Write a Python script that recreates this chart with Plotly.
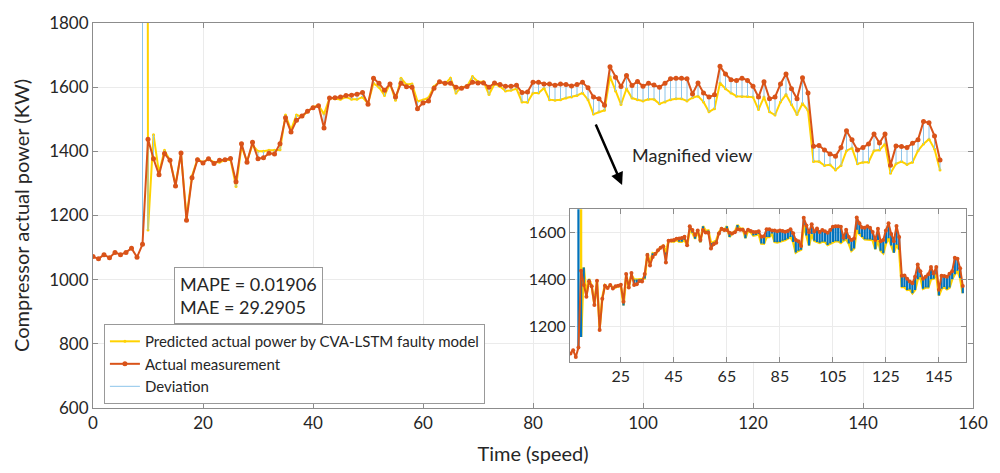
import plotly.graph_objects as go

time_idx = list(range(155))

actual = [1072, 1065, 1078, 1068, 1085, 1078, 1085, 1098, 1070, 1110,
          1438, 1377, 1327, 1393, 1372, 1292, 1395, 1185, 1318, 1374,
          1364, 1377, 1362, 1372, 1374, 1378, 1305, 1424, 1366, 1428,
          1377, 1380, 1394, 1392, 1424, 1505, 1460, 1497, 1510, 1525,
          1536, 1542, 1473, 1566, 1567, 1569, 1574, 1575, 1578, 1583,
          1547, 1628, 1612, 1590, 1610, 1569, 1612, 1601, 1600, 1533,
          1551, 1557, 1597, 1617, 1612, 1612, 1600, 1597, 1602, 1615,
          1613, 1613, 1600, 1613, 1608, 1603, 1603, 1606, 1583, 1585,
          1615, 1615, 1610, 1610, 1606, 1610, 1608, 1604, 1608, 1615,
          1598, 1569, 1564, 1544, 1664, 1631, 1602, 1636, 1605, 1618,
          1603, 1612, 1607, 1600, 1612, 1626, 1628, 1628, 1626, 1579,
          1613, 1582, 1569, 1576, 1665, 1641, 1623, 1621, 1628, 1621,
          1603, 1569, 1617, 1564, 1569, 1610, 1641, 1595, 1564, 1629,
          1582, 1416, 1418, 1404, 1392, 1385, 1412, 1464, 1436, 1404,
          1412, 1423, 1454, 1426, 1454, 1357, 1417, 1415, 1412, 1425,
          1436, 1493, 1489, 1448, 1373]

predicted = [None, None, None, None, None, None, None, None, None, 20000,
             1155, 1452, 1333, 1403, 1372, 1297, 1393, 1195, 1323, 1376,
             1366, 1377, 1366, 1366, 1372, 1374, 1290, 1415, 1369, 1420,
             1400, 1400, 1403, 1403, 1405, 1513, 1467, 1513, 1508, 1523,
             1538, 1544, 1516, 1566, 1564, 1562, 1569, 1562, 1562, 1569,
             1549, 1612, 1600, 1574, 1612, 1559, 1628, 1608, 1610, 1556,
             1560, 1567, 1602, 1618, 1610, 1628, 1582, 1600, 1602, 1633,
             1617, 1617, 1577, 1610, 1602, 1588, 1590, 1595, 1554, 1553,
             1582, 1582, 1597, 1561, 1559, 1561, 1566, 1569, 1574, 1582,
             1561, 1516, 1523, 1528, 1633, 1588, 1546, 1595, 1566, 1561,
             1557, 1562, 1562, 1548, 1554, 1561, 1564, 1564, 1557, 1567,
             1572, 1554, 1523, 1533, 1613, 1595, 1582, 1572, 1571, 1571,
             1569, 1530, 1569, 1523, 1513, 1554, 1577, 1546, 1515, 1549,
             1528, 1368, 1368, 1356, 1358, 1342, 1356, 1402, 1410, 1361,
             1366, 1366, 1402, 1404, 1423, 1332, 1361, 1368, 1359, 1366,
             1402, 1423, 1438, 1407, 1342]

main_xticks = [0, 20, 40, 60, 80, 100, 120, 140, 160]
main_yticks = [600, 800, 1000, 1200, 1400, 1600, 1800]
inset_xticks = [25, 45, 65, 85, 105, 125, 145]
inset_yticks = [1200, 1400, 1600]

YELLOW = '#FFD200'
RED = '#D95319'
LIGHTBLUE = '#8CC4EA'
BLUE = '#0072BD'
FONT = 'Lato'

# deviation segments
dev_x, dev_y = [], []
for t, a, p in zip(time_idx, actual, predicted):
    if p is None:
        continue
    dev_x += [t, t, None]
    dev_y += [a, p, None]

fig = go.Figure()

# main chart
fig.add_trace(go.Scatter(x=time_idx, y=predicted, mode='lines+markers',
                         line=dict(color=YELLOW, width=2), marker=dict(size=3, color=YELLOW),
                         name='Predicted actual power by CVA-LSTM faulty model',
                         xaxis='x', yaxis='y', legendrank=1))
fig.add_trace(go.Scatter(x=dev_x, y=dev_y, mode='lines',
                         line=dict(color=LIGHTBLUE, width=1),
                         name='Deviation', xaxis='x', yaxis='y', legendrank=3))
fig.add_trace(go.Scatter(x=time_idx, y=actual, mode='lines+markers',
                         line=dict(color=RED, width=2), marker=dict(size=5, color=RED),
                         name='Actual measurement', xaxis='x', yaxis='y', legendrank=2))

# inset
fig.add_trace(go.Scatter(x=time_idx, y=predicted, mode='lines',
                         line=dict(color=YELLOW, width=2.5), showlegend=False,
                         xaxis='x2', yaxis='y2'))
fig.add_trace(go.Scatter(x=dev_x, y=dev_y, mode='lines',
                         line=dict(color=BLUE, width=2.2), showlegend=False,
                         xaxis='x2', yaxis='y2'))
fig.add_trace(go.Scatter(x=time_idx, y=actual, mode='lines+markers',
                         line=dict(color=RED, width=2), marker=dict(size=4, color=RED),
                         showlegend=False, xaxis='x2', yaxis='y2'))

axis_common = dict(showgrid=True, gridcolor='#EBEBEB', gridwidth=1, zeroline=False,
                   showline=True, linecolor='#8C8C8C', linewidth=1, mirror='allticks',
                   ticks='inside', ticklen=5, tickcolor='#8C8C8C',
                   tickfont=dict(family=FONT, size=17, color='#262626'))

fig.update_layout(
    width=1000, height=473,
    margin=dict(l=93, r=22, t=18, b=65),
    paper_bgcolor='white', plot_bgcolor='white',
    font=dict(family=FONT, color='#262626'),
    xaxis=dict(domain=[0, 1], range=[0, 160], tickvals=main_xticks,
               title=dict(text='Time (speed)', font=dict(family=FONT, size=20), standoff=14),
               **axis_common),
    yaxis=dict(domain=[0, 1], range=[600, 1800], tickvals=main_yticks,
               title=dict(text='Compressor actual power (KW)', font=dict(family=FONT, size=20), standoff=14),
               **axis_common),
    xaxis2=dict(domain=[0.542, 0.992], range=[5.8, 155.2], tickvals=inset_xticks, anchor='y2',
                **{**axis_common, 'tickfont': dict(family=FONT, size=16, color='#262626')}),
    yaxis2=dict(domain=[0.1205, 0.516], range=[1050, 1700], tickvals=inset_yticks, anchor='x2',
                **{**axis_common, 'tickfont': dict(family=FONT, size=16, color='#262626')}),
    legend=dict(x=0.0124, y=0.218, xanchor='left', yanchor='top',
                bgcolor='white', bordercolor='#999999', borderwidth=1,
                font=dict(family=FONT, size=15, color='#262626'),
                tracegroupgap=0, itemwidth=30),
    showlegend=True,
)

fig.add_annotation(xref='paper', yref='paper', x=0.0915, y=0.366, xanchor='left', yanchor='top',
                   text='MAPE = 0.01906<br>MAE = 29.2905', showarrow=False, align='left',
                   font=dict(family=FONT, size=18, color='#262626'),
                   bordercolor='#999999', borderwidth=1, borderpad=5, bgcolor='white')

fig.add_annotation(xref='x', yref='y', x=97.6, y=1388, xanchor='left', yanchor='middle',
                   text='Magnified view', showarrow=False,
                   font=dict(family=FONT, size=18, color='#262626'))

fig.add_annotation(xref='x', yref='y', x=96.2, y=1295, text='', showarrow=True,
                   arrowhead=2, arrowsize=1, arrowwidth=2.5, arrowcolor='black',
                   ax=-27, ay=-62)

fig.write_html('out.html')
